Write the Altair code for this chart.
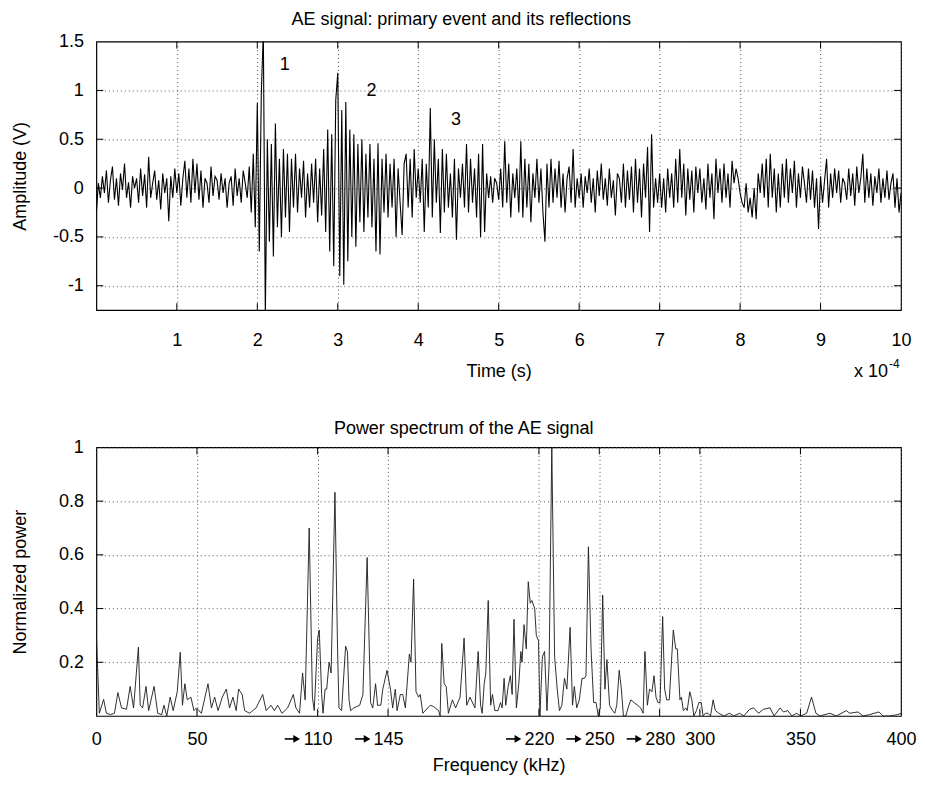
import altair as alt
import pandas as pd

W, H = 806, 269
FONT = "Liberation Sans"
FS = 18

# ---------------- top panel data: AE signal (time in units of 1e-4 s) ----------------
t_step = 0.025
amp = [
    -0.25, 0.05, -0.1, 0.12, -0.05, 0.18, -0.15, 0.08, 0.22, -0.12, 0.1, -0.18, 0.15, -0.02, 0.25, -0.1, 0.06, -0.2, 0.12, 0.0,
    0.1, -0.15, 0.2, -0.08, 0.14, -0.2, 0.32, -0.1, 0.05, 0.18, -0.12, 0.08, -0.22, 0.15, -0.05, 0.1, -0.34, 0.12, -0.1, 0.2,
    -0.05, 0.15, -0.18, 0.1, 0.28, -0.1, 0.2, -0.15, 0.3, -0.05, 0.25, -0.12, 0.18, -0.2, 0.1, 0.05, -0.15, 0.22, -0.08, 0.12,
    0.08, -0.12, 0.15, -0.05, 0.1, -0.2, 0.05, 0.12, -0.18, 0.2, -0.08, 0.1, -0.15, 0.18, 0.05, -0.1, 0.22, -0.25, 0.35, -0.4,
    0.87, -0.65, 0.97, 1.6, -1.3, 0.5, -0.55, 0.45, -0.7, 0.66, -0.4, 0.3, -0.5, 0.4, -0.3, 0.35, -0.45, 0.3, -0.2, 0.35,
    -0.25, 0.2, -0.1, 0.28, -0.3, 0.15, -0.2, 0.25, -0.15, 0.3, -0.35, 0.2, -0.28, 0.4, -0.45, 0.6, -0.65, 0.55, -0.8, 0.9,
    1.18, -0.9, 0.8, -0.99, 0.88, -0.75, 0.6, -0.5, 0.55, -0.6, 0.45, -0.35, 0.5, -0.45, 0.35, -0.3, 0.45, -0.4, 0.3, -0.65,
    0.46, -0.68, 0.3, -0.25, 0.35, -0.3, 0.25, -0.2, 0.3, -0.5, 0.2, -0.15, -0.48, 0.25, 0.35, -0.2, 0.3, -0.3, 0.4, -0.1,
    0.2, -0.15, 0.3, -0.45, 0.25, -0.2, 0.82, -0.3, 0.5, -0.15, 0.3, -0.46, 0.4, -0.25, 0.35, -0.2, 0.15, -0.3, 0.3, -0.53,
    0.2, -0.1, 0.25, -0.2, 0.45, -0.25, 0.3, -0.15, 0.2, -0.3, 0.35, -0.5, 0.45, -0.45, 0.15, -0.1, 0.12, -0.15, 0.1, 0.05,
    -0.12, 0.2, -0.2, 0.48, -0.15, 0.25, -0.3, 0.15, -0.1, 0.2, -0.25, 0.48, -0.3, 0.3, -0.2, 0.25, -0.35, 0.15, -0.1, 0.3,
    -0.15, 0.2, -0.25, -0.55, 0.25, -0.2, 0.3, -0.15, 0.2, -0.1, 0.28, -0.2, 0.15, -0.25, 0.1, 0.22, -0.15, 0.4, -0.2, 0.1,
    -0.1, 0.15, -0.2, 0.12, -0.05, 0.2, -0.15, 0.1, -0.25, 0.18, -0.08, 0.25, -0.12, 0.1, -0.18, 0.2, -0.1, 0.08, -0.28, 0.15,
    0.1, -0.15, 0.25, -0.2, 0.18, -0.12, 0.22, -0.25, 0.3, -0.15, 0.2, -0.3, 0.25, -0.1, 0.42, -0.45, 0.55, -0.2, 0.1, -0.15,
    0.15, -0.2, 0.1, -0.25, 0.2, -0.1, 0.15, -0.2, 0.3, -0.15, 0.4, -0.1, 0.25, -0.28, 0.2, -0.12, 0.18, -0.25, 0.22, -0.05,
    0.2, -0.15, 0.1, -0.22, 0.25, -0.1, 0.15, -0.32, 0.3, -0.05, 0.2, -0.15, 0.25, -0.1, 0.15, -0.2, 0.28, 0.05, 0.2, 0.1,
    -0.05, -0.15, -0.2, 0.05, -0.25, -0.1, -0.3, 0.0, -0.32, 0.15, -0.05, 0.25, -0.1, 0.3, -0.2, 0.35, -0.1, 0.2, -0.25, 0.15,
    -0.2, 0.25, -0.1, 0.3, -0.15, 0.2, -0.05, 0.28, -0.2, 0.15, -0.1, 0.22, 0.05, -0.15, 0.2, -0.12, 0.18, -0.2, 0.1, -0.42,
    0.12, -0.15, 0.08, 0.3, -0.2, 0.15, -0.1, 0.2, -0.05, 0.18, -0.15, 0.1, 0.05, -0.12, 0.2, -0.08, 0.15, -0.18, 0.22, -0.05,
    0.1, 0.35, -0.15, 0.2, -0.1, 0.15, -0.18, 0.12, -0.05, 0.2, -0.15, 0.1, -0.1, 0.18, -0.12, 0.05, 0.15, -0.2, 0.1, -0.25,
    -0.05,
]
time = [round(i * t_step, 4) for i in range(len(amp))]

top_xticks = [1, 2, 3, 4, 5, 6, 7, 8, 9, 10]
top_yticks = [-1, -0.5, 0, 0.5, 1, 1.5]
peak_t = [2.34, 3.42, 4.47]
peak_a = [1.26, 0.99, 0.70]
peak_txt = ["1", "2", "3"]

# ---------------- bottom panel data: power spectrum ----------------
freq = [
    0, 1.5, 3.6, 5, 7, 9, 10.7, 12.5, 15, 16.8,
    18.5, 20.9, 21.8, 23, 24.7, 26, 28.7, 30.5, 32.5, 33.6,
    35, 36.7, 38.2, 40.2, 41.7, 42.8, 44, 45.2, 47, 48.5,
    49.8, 52.2, 55.5, 57.2, 58.8, 60.5, 62.6, 64.6, 66.2, 67.9,
    69.5, 70.7, 72.5, 73.7, 76.2, 79.4, 82.7, 84.4, 86.8, 88.5,
    90.1, 92.3, 95.1, 97.9, 99.2, 101, 102.5, 103.8, 105.8, 107.4,
    108.3, 110, 110.8, 112, 112.7, 113.7, 114.5, 115.7, 116.7, 118.6,
    119.9, 120.6, 121.9, 123.9, 124.8, 125.6, 126.4, 128, 130.9, 132.5,
    134.6, 136.3, 137.4, 138.8, 139.8, 141.4, 142.4, 144.5, 146.2, 147.3,
    148.6, 149.5, 151.1, 152.3, 153.6, 155.6, 156.4, 157.7, 158.9, 160.2,
    161, 162.3, 163.5, 166, 167.6, 170.1, 170.9, 171.7, 172.9, 173.9,
    175, 177, 178.6, 180.8, 182.8, 184.1, 185.7, 188.2, 189.8, 191,
    191.8, 192.8, 193.6, 194.8, 196, 196.9, 198.1, 199.7, 200.9, 201.7,
    202.7, 203.5, 204.7, 205.8, 206.7, 207.6, 208.8, 210, 211, 211.6,
    212.6, 213.7, 214.7, 215.7, 216.5, 217.9, 218.7, 219.8, 220.5, 221.7,
    222.8, 224, 225.1, 226.4, 227.8, 229.1, 230.2, 231.4, 232.7, 233.9,
    235.5, 236.7, 237.6, 238.8, 240.1, 241.4, 242.6, 243.4, 244.6, 245.9,
    247.2, 248.4, 249.5, 250.5, 251.7, 252.8, 253.8, 255.1, 256.6, 257.7,
    258.7, 259.9, 261, 262, 263.2, 264.3, 265.7, 267.3, 269, 270.6,
    271.8, 272.7, 273.9, 275, 276.2, 277.2, 278.2, 279.2, 280.2, 281.5,
    282.5, 283.5, 284.8, 286.8, 288, 288.8, 290.1, 290.8, 291.8, 293,
    293.7, 295, 296, 297, 298.3, 299.5, 300.7, 301.6, 302.8, 304,
    305.3, 306.6, 307.7, 309.4, 311.9, 314.8, 316.8, 319.8, 321.8, 324.7,
    326.7, 329.2, 331.6, 334.9, 336.9, 339.9, 341.5, 343.7, 345.7, 348.1,
    350.1, 353.1, 355.5, 357.7, 359.7, 364.6, 367.9, 372.8, 374.5, 378.6,
    381.1, 384.4, 389, 391, 394.3, 398.4, 400,
]
power = [
    0.3, 0.01, 0.062, 0.01, 0.005, 0.01, 0.087, 0.03, 0.025, 0.11,
    0.03, 0.256, 0.04, 0.03, 0.11, 0.02, 0.11, 0.01, 0.005, 0.04,
    0.0, 0.07, 0.02, 0.09, 0.237, 0.04, 0.12, 0.06, 0.07, 0.02,
    0.03, 0.01, 0.12, 0.03, 0.07, 0.02, 0.07, 0.1, 0.03, 0.07,
    0.02, 0.1, 0.08, 0.02, 0.01, 0.03, 0.08, 0.02, 0.04, 0.02,
    0.04, 0.01, 0.03, 0.08, 0.03, 0.01, 0.16, 0.06, 0.70, 0.07,
    0.02, 0.29, 0.32, 0.08, 0.01, 0.1, 0.1, 0.2, 0.16, 0.833,
    0.25, 0.03, 0.02, 0.26, 0.24, 0.06, 0.02, 0.03, 0.04, 0.08,
    0.59, 0.05, 0.03, 0.12, 0.04, 0.04, 0.1, 0.17, 0.1, 0.03,
    0.1, 0.02, 0.08, 0.08, 0.03, 0.23, 0.2, 0.51, 0.09, 0.07,
    0.08, 0.01, 0.02, 0.04, 0.035, 0.02, 0.0, 0.27, 0.12, 0.11,
    0.01, 0.06, 0.03, 0.07, 0.29, 0.04, 0.07, 0.03, 0.24, 0.04,
    0.01, 0.12, 0.16, 0.43, 0.04, 0.08, 0.02, 0.02, 0.05, 0.03,
    0.14, 0.04, 0.11, 0.15, 0.08, 0.36, 0.03, 0.12, 0.24, 0.2,
    0.34, 0.25, 0.50, 0.42, 0.43, 0.40, 0.30, 0.28, 0.0, 0.22,
    0.24, 0.02, 0.2, 1.0, 0.22, 0.1, 0.02, 0.04, 0.14, 0.1,
    0.33, 0.04, 0.11, 0.03, 0.06, 0.14, 0.14, 0.15, 0.63, 0.25,
    0.05, 0.05, 0.0, 0.03, 0.45, 0.1, 0.21, 0.04, 0.02, 0.01,
    0.04, 0.17, 0.1, 0.0, 0.0, 0.03, 0.06, 0.05, 0.04, 0.03,
    0.01, 0.24, 0.04, 0.1, 0.09, 0.15, 0.07, 0.05, 0.05, 0.37,
    0.1, 0.06, 0.06, 0.32, 0.25, 0.25, 0.06, 0.07, 0.02, 0.03,
    0.02, 0.09, 0.06, 0.0, 0.02, 0.05, 0.05, 0.0, 0.01, 0.01,
    0.0, 0.06, 0.02, 0.01, 0.0, 0.01, 0.0, 0.01, 0.0, 0.025,
    0.03, 0.01, 0.025, 0.03, 0.0, 0.03, 0.015, 0.02, 0.0, 0.01,
    0.0, 0.01, 0.07, 0.01, 0.0, 0.01, 0.0, 0.02, 0.01, 0.015,
    0.0, 0.005, 0.015, 0.0, 0.0, 0.005, 0.01,
]

bot_xticks = [0, 50, 110, 145, 220, 250, 280, 300, 350, 400]
arrow_ticks = [110, 145, 220, 250, 280]
bot_yticks = [0.2, 0.4, 0.6, 0.8, 1]

TICK_LEN = 7


def axis(values, title, **kw):
    base = dict(
        values=values, title=title, grid=True, gridDash=[1, 3], gridColor="#555",
        gridWidth=1, domain=False, ticks=False, labelFont=FONT, labelFontSize=FS,
        labelColor="black", labelFlush=False, labelOverlap=False, labelBound=False,
        titleFont=FONT, titleFontSize=FS, titleFontWeight="normal", titleColor="black",
        labelExpr="toString(datum.value)",
    )
    base.update(kw)
    return alt.Axis(**base)


def inward_ticks(xvals, yvals, xf, yf):
    xdf = pd.DataFrame({xf: xvals})
    ydf = pd.DataFrame({yf: yvals})
    xb = alt.Chart(xdf).mark_rule(color="black", strokeWidth=1).encode(
        x=alt.X(f"{xf}:Q"), y=alt.value(H), y2=alt.value(H - TICK_LEN))
    xt = alt.Chart(xdf).mark_rule(color="black", strokeWidth=1).encode(
        x=alt.X(f"{xf}:Q"), y=alt.value(0), y2=alt.value(TICK_LEN))
    yl = alt.Chart(ydf).mark_rule(color="black", strokeWidth=1).encode(
        y=alt.Y(f"{yf}:Q"), x=alt.value(0), x2=alt.value(TICK_LEN))
    yr = alt.Chart(ydf).mark_rule(color="black", strokeWidth=1).encode(
        y=alt.Y(f"{yf}:Q"), x=alt.value(W - TICK_LEN), x2=alt.value(W))
    return [xb, xt, yl, yr]


def title(text, offset):
    return alt.TitleParams(text, font=FONT, fontSize=FS, fontWeight="normal",
                           color="black", offset=offset, anchor="middle", frame="bounds")


# ---------------- top chart ----------------
xs_top = alt.Scale(domain=[0, 10], nice=False, zero=False)
ys_top = alt.Scale(domain=[-1.25, 1.5], nice=False, zero=False)
sig_df = pd.DataFrame({"t": time, "a": amp})

sig_line = alt.Chart(sig_df).mark_line(color="black", strokeWidth=1.1, clip=True).encode(
    x=alt.X("t:Q", scale=xs_top,
            axis=axis(top_xticks, "Time (s)", labelPadding=21, titlePadding=13)),
    y=alt.Y("a:Q", scale=ys_top,
            axis=axis(top_yticks, "Amplitude (V)", labelPadding=13, titlePadding=23)),
)
peak_df = pd.DataFrame({"t": peak_t, "a": peak_a, "s": peak_txt})
peak_text = alt.Chart(peak_df).mark_text(font=FONT, fontSize=FS, color="black",
                                         align="center", baseline="middle").encode(
    x="t:Q", y="a:Q", text="s:N")
exp_df = pd.DataFrame({"s": ["x 10"], "e": ["-4"]})
exp_main = alt.Chart(exp_df).mark_text(font=FONT, fontSize=FS, color="black",
                                       align="right", baseline="alphabetic").encode(
    x=alt.value(W - 13), y=alt.value(H + 66.5), text="s:N")
exp_sup = alt.Chart(exp_df).mark_text(font=FONT, fontSize=12, color="black",
                                      align="left", baseline="alphabetic").encode(
    x=alt.value(W - 12), y=alt.value(H + 58), text="e:N")

top = alt.layer(
    sig_line, *inward_ticks(top_xticks[:-1], top_yticks[:-1], "t", "a"),
    peak_text, exp_main, exp_sup,
).properties(width=W, height=H,
             title=title("AE signal: primary event and its reflections", 4))

# ---------------- bottom chart ----------------
xs_bot = alt.Scale(domain=[0, 400], nice=False, zero=False)
ys_bot = alt.Scale(domain=[0, 1], nice=False, zero=False)
spec_df = pd.DataFrame({"f": freq, "p": power})

spec_line = alt.Chart(spec_df).mark_line(color="#1a1a1a", strokeWidth=0.9, clip=True).encode(
    x=alt.X("f:Q", scale=xs_bot,
            axis=axis(bot_xticks, "Frequency (kHz)", labelPadding=15, titlePadding=8)),
    y=alt.Y("p:Q", scale=ys_bot,
            axis=axis(bot_yticks, "Normalized power", labelPadding=13, titlePadding=29)),
)
arrow_df = pd.DataFrame({"f": arrow_ticks})
arrow_shaft = alt.Chart(arrow_df).mark_rule(color="black", strokeWidth=1.6,
                                            xOffset=-33, x2Offset=-22).encode(
    x="f:Q", x2="f:Q", y=alt.value(H + 23))
arrow_head = alt.Chart(arrow_df).mark_point(shape="triangle-right", filled=True,
                                            color="black", opacity=1, size=60,
                                            strokeWidth=0, xOffset=-21).encode(
    x="f:Q", y=alt.value(H + 23))

bottom = alt.layer(
    spec_line, *inward_ticks(bot_xticks[1:-1], bot_yticks[:-1], "f", "p"),
    arrow_shaft, arrow_head,
).properties(width=W, height=H,
             title=title("Power spectrum of the AE signal", 0.5))

chart = alt.vconcat(top, bottom, spacing=36.5).properties(
    padding={"left": 2.5, "top": 1, "right": 0, "bottom": 0}
).configure_view(stroke="black", strokeWidth=1.2)

chart.save("out.html", embed_options={"renderer": "svg", "actions": False})
